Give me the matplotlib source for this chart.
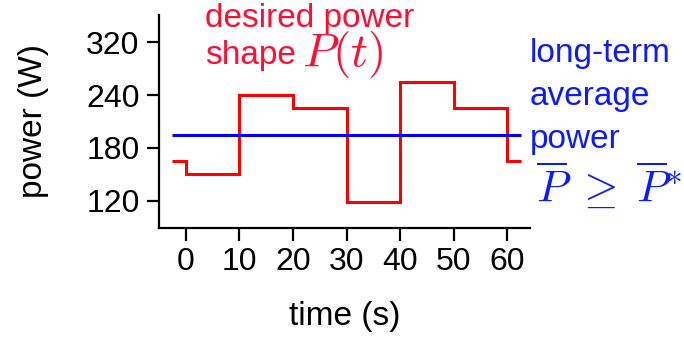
import matplotlib
matplotlib.use("Agg")
import matplotlib.pyplot as plt

plt.rcParams['font.family'] = ['Liberation Sans', 'DejaVu Sans']
plt.rcParams['mathtext.fontset'] = 'cm'

# piecewise-constant power profile
step_edges = [-2.5, 0, 10, 20, 30, 40, 50, 60, 62.5]
power_levels = [165, 150, 240, 225, 118, 255, 225, 165]
avg_power = 195

x_ticks = [0, 10, 20, 30, 40, 50, 60]
y_ticks = [120, 180, 240, 300]
y_tick_labels = ['120', '180', '240', '320']

fig = plt.figure(figsize=(6.84, 3.39), dpi=100)
ax = fig.add_axes([159 / 684, 1 - 228 / 339, (530 - 159) / 684, (228 - 15) / 339])

ax.stairs(power_levels, step_edges, baseline=None, color='red', lw=2.2)
ax.hlines(avg_power, step_edges[0], step_edges[-1], color='blue', lw=2.2)

ax.set_xlim(-5, 64.2)
ax.set_ylim(89, 331)
ax.set_xticks(x_ticks)
ax.set_yticks(y_ticks)
ax.set_yticklabels(y_tick_labels)

for side in ['top', 'right']:
    ax.spines[side].set_visible(False)
for side in ['left', 'bottom']:
    ax.spines[side].set_linewidth(1.6)
ax.tick_params(axis='both', labelsize=23, width=1.6, length=9, pad=5)

ax.set_xlabel('time (s)', fontsize=24, labelpad=17)
ax.set_ylabel('power (W)', fontsize=24, labelpad=27)

def fig_pos(px, py):
    return px / 684, 1 - py / 339

red_txt = (1.0, 0.05, 0.2)
fig.text(*fig_pos(205, 27), 'desired power', color=red_txt, fontsize=24, va='baseline')
fig.text(*fig_pos(205, 64), 'shape', color=red_txt, fontsize=24, va='baseline')
fig.text(*fig_pos(302, 66), '$P(t)$', color=red_txt, fontsize=34, va='baseline')

blue_txt = (0.05, 0.1, 1.0)
fig.text(*fig_pos(530, 62), 'long-term', color=blue_txt, fontsize=24, va='baseline')
fig.text(*fig_pos(530, 105), 'average', color=blue_txt, fontsize=24, va='baseline')
fig.text(*fig_pos(530, 148), 'power', color=blue_txt, fontsize=24, va='baseline')
fig.text(*fig_pos(536, 203), r'$\overline{P}\;\geq\;\overline{P}^{*}$', color=blue_txt,
         fontsize=32, va='baseline')

fig.savefig('out.png', dpi=100)
